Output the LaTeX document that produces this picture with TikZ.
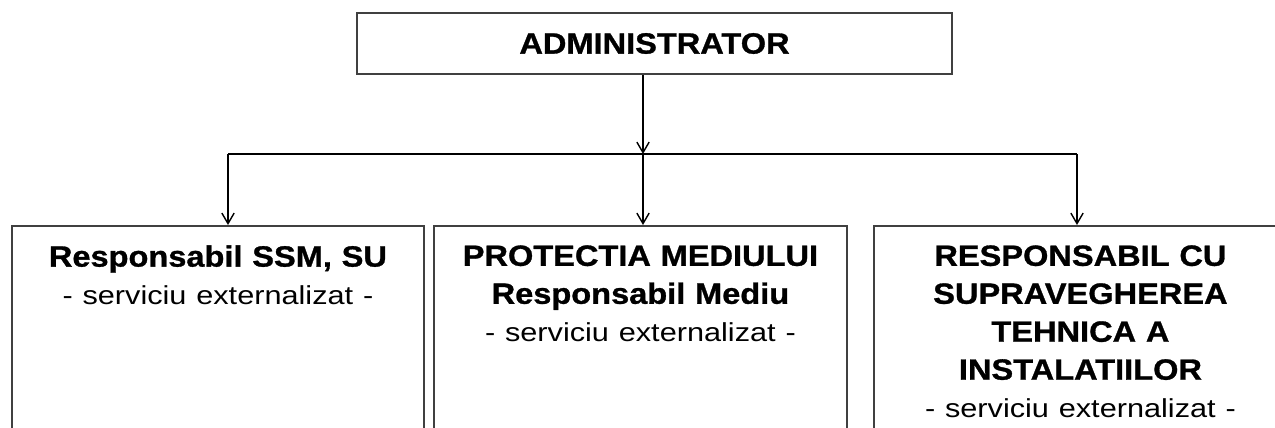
\documentclass[tikz,border=0pt]{standalone}
\usepackage{fontspec}
\setmainfont{Liberation Sans}
\newfontfamily\boldwide{Liberation Sans}[FakeStretch=1.11, BoldFeatures={FakeBold=1}]
\newfontfamily\plainwide{Liberation Sans}[FakeStretch=1.18]
\usetikzlibrary{arrows.meta,positioning}
\newcommand{\boxtitlefont}{\boldwide\bfseries\fontsize{16.7pt}{21.6pt}\selectfont}
\newcommand{\boxnotefont}{\plainwide\mdseries\fontsize{14.8pt}{21.6pt}\selectfont}
\tikzset{
  unitbox/.style={draw=black!75, line width=1.1pt, anchor=north west, minimum height=4.7cm, inner sep=0pt},
  unittext/.style={align=center, text width=8cm, inner sep=0pt, font=\boxtitlefont},
  link/.style={line width=0.8pt},
  linkarrow/.style={link, -{Straight Barb[length=6pt,width=7pt]}}
}

\begin{document}
\begin{tikzpicture}[x=0.02cm, y=-0.02cm]
\useasboundingbox (0,0) rectangle (1275,427);
\clip (0,0) rectangle (1275,427);
\node[draw=black!75, line width=1.1pt, minimum width=11.9cm, minimum height=1.22cm, inner sep=0pt, font=\boxtitlefont] (admin) at (654.5,43.5) {ADMINISTRATOR};
\node[unitbox, minimum width=8.24cm] (ssm) at (11,225) {};
\node[unitbox, minimum width=8.26cm] (mediu) at (433,225) {};
\node[unitbox, minimum width=8.26cm] (instalatii) at (873,225) {};
\node[unittext, below=0.4cm of ssm.north] (ssmtext) {Responsabil SSM, SU\\{\boxnotefont - serviciu externalizat -}};
\node[unittext, below=0.4cm of mediu.north] (mediutext) {PROTECTIA MEDIULUI\\Responsabil Mediu\\{\boxnotefont - serviciu externalizat -}};
\node[unittext, below=0.4cm of instalatii.north] (instalatiitext) {RESPONSABIL CU\\SUPRAVEGHEREA\\TEHNICA A\\INSTALATIILOR\\{\boxnotefont - serviciu externalizat -}};
\coordinate (split) at (643,154);
\coordinate (leftend) at (228,154);
\coordinate (rightend) at (1077,154);
\draw[linkarrow] (admin.south -| split) -- (split);
\draw[link] (leftend) -- (rightend);
\draw[linkarrow] (leftend) -- (leftend |- ssm.north);
\draw[linkarrow] (split) -- (split |- mediu.north);
\draw[linkarrow] (rightend) -- (rightend |- instalatii.north);
\end{tikzpicture}
\end{document}
